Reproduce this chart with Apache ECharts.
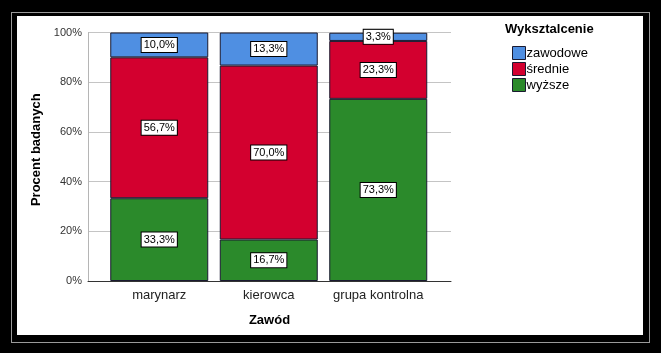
<!DOCTYPE html>
<html>
<head>
<meta charset="utf-8">
<script src="https://cdn.jsdelivr.net/npm/echarts@6/dist/echarts.min.js"></script>
<style>
html,body{margin:0;padding:0;background:#000;width:661px;height:353px;overflow:hidden;}
#frame{position:absolute;left:11px;top:12px;width:637px;height:329px;border:1px solid #9a9a9a;}
#chart{position:absolute;left:17px;top:16px;width:626px;height:319px;background:#fff;}
</style>
</head>
<body>
<div id="frame"></div>
<div id="chart"></div>
<script>
const categories = ['marynarz', 'kierowca', 'grupa kontrolna'];
const seriesNames = ['zawodowe', 'średnie', 'wyższe'];
const zawodowe = [10.0, 13.3, 3.3];
const srednie = [56.7, 70.0, 23.3];
const wyzsze = [33.3, 16.7, 73.3];
const yTicks = [0, 20, 40, 60, 80, 100];

const OX = 17, OY = 16;
const chart = echarts.init(document.getElementById('chart'), null, {renderer: 'canvas'});
const labelStyle = {
  show: true,
  position: 'inside',
  formatter: p => p.value.toFixed(1).replace('.', ',') + '%',
  backgroundColor: '#fff',
  borderColor: '#000',
  borderWidth: 1,
  padding: [2, 2, 1, 2],
  color: '#000',
  fontFamily: 'Liberation Sans, Arial, sans-serif',
  fontSize: 11
};
const barBorder = {borderColor: '#1a1a30', borderWidth: 1};
function mk(name, data, color) {
  return {
    name: name, type: 'bar', stack: 's', xAxisIndex: 1, yAxisIndex: 1,
    data: data, barWidth: 98,
    itemStyle: Object.assign({color: color}, barBorder),
    label: labelStyle
  };
}
chart.setOption({
  animation: false,
  textStyle: {fontFamily: 'Liberation Sans, Arial, sans-serif'},
  title: {
    text: 'Wyksztalcenie', left: 505 - OX - 5, top: 23 - OY - 5,
    textStyle: {fontSize: 13, fontWeight: 'bold', color: '#000'}
  },
  legend: {
    orient: 'vertical', left: 512 - OX - 5, top: 46 - OY - 5,
    itemWidth: 13, itemHeight: 13, itemGap: 2,
    data: seriesNames,
    textStyle: {fontSize: 13, color: '#000', padding: [0, 0, 0, -4]},
    icon: 'rect',
    itemStyle: {borderColor: '#1a1a30', borderWidth: 1}
  },
  grid: [
    {left: 88 - OX, top: 32.5 - OY, width: 363, height: 248.5},
    {left: 104.5 - OX, top: 32.5 - OY, width: 328.5, height: 248.5}
  ],
  xAxis: [
    {
      type: 'value', gridIndex: 0, min: 0, max: 1,
      axisLine: {show: true, onZero: false, lineStyle: {color: '#333', width: 1}},
      axisTick: {show: false}, axisLabel: {show: false}, splitLine: {show: false},
      name: 'Zawód', nameLocation: 'middle', nameGap: 33,
      nameTextStyle: {fontSize: 13, fontWeight: 'bold', color: '#000'}
    },
    {
      type: 'category', gridIndex: 1, data: categories,
      axisLine: {show: false}, axisTick: {show: false},
      axisLabel: {fontSize: 13, color: '#222', margin: 8, interval: 0}
    }
  ],
  yAxis: [
    {
      type: 'value', gridIndex: 0, min: 0, max: 100, interval: 20,
      axisLine: {show: true, lineStyle: {color: '#b5b5b5'}},
      axisTick: {show: false},
      axisLabel: {formatter: v => yTicks.includes(v) ? v + '%' : '', fontSize: 11, color: '#333', margin: 6},
      splitLine: {show: true, lineStyle: {color: '#c4c4c4', width: 1}},
      name: 'Procent badanych', nameLocation: 'middle', nameGap: 45,
      nameTextStyle: {fontSize: 13, fontWeight: 'bold', color: '#000', padding: [0, 0, 0, 14]}
    },
    {
      type: 'value', gridIndex: 1, min: 0, max: 100,
      show: false
    }
  ],
  series: [
    mk('wyższe', wyzsze, '#2b8a2b'),
    mk('średnie', srednie, '#d3002f'),
    mk('zawodowe', zawodowe, '#4f8fe2')
  ]
});
</script>
</body>
</html>
